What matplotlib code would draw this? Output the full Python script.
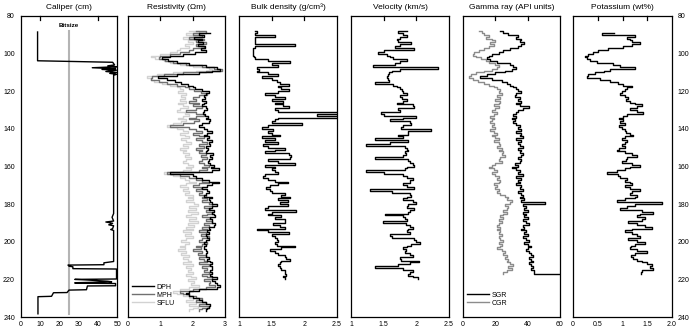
import numpy as np
import matplotlib
matplotlib.use("Agg")
import matplotlib.pyplot as plt
from matplotlib.lines import Line2D

plt.rcParams['font.family'] = ['Liberation Sans', 'DejaVu Sans']

# ---------------- data ----------------
# Caliper (depth, cm)
cal_depth = [88.5, 103.8, 104.6, 106.0, 106.5, 107.0, 107.5, 108.0, 108.4, 108.8, 109.5, 110.0, 110.5,
             111.0, 111.5, 185.0, 187.0, 189.0, 189.5, 190.2, 191.0, 191.5, 193.0, 193.5, 194.0,
             210.5, 211.2, 212.2, 212.4, 213.0, 213.3, 214.3, 214.5, 219.8, 220.0, 220.3, 221.0,
             221.3, 221.8, 222.0, 222.2, 223.4, 223.5, 225.5, 225.7, 227.0, 227.1, 229.0, 229.2, 238.3]
cal_vals = [8.8, 8.8, 47.5, 48.5, 45, 49.5, 37, 49, 42, 49.5, 44, 49.5, 46,
            49.5, 48, 48, 47.2, 48, 44, 47.5, 45.5, 48, 47.5, 46.5, 48,
            48, 43, 43, 24.5, 25, 27, 27, 49.5, 49.5, 28, 34, 45,
            47, 28, 28, 49, 49, 34.5, 34, 25, 24, 17, 16, 9, 9]
bitsize_depth = [88.0, 238.3]
bitsize_vals = [25.0, 25.0]

# Resistivity (ohm m), 1 m sampling
dph_top = 89.0
dph = [2.54, 2.2, 2.35, 2.05, 2.3, 2.15, 2.33, 2.15, 2.38, 2.25, 2.4,
       2.07, 1.7, 1.3, 1.05, 1.25, 1.5, 1.9, 2.4, 2.75, 2.85, 2.6, 2.2, 1.5,
       0.94, 1.2, 1.45, 1.65, 1.87, 2.0, 2.07, 2.3, 2.5, 2.4, 2.35, 2.38, 2.3,
       2.42, 2.35, 2.3, 2.4, 2.43, 2.36, 2.32, 2.38, 2.46, 2.4, 2.54, 2.5, 2.3,
       2.2, 2.35, 2.45, 2.6, 2.45, 2.35, 2.5, 2.45, 2.6, 2.5, 2.55, 2.4, 2.48,
       2.45, 2.4, 2.62, 2.55, 2.6, 2.5, 2.48, 2.55, 2.65, 2.58, 2.8, 2.6, 1.3,
       2.0, 2.1, 2.3, 2.5, 2.8, 2.6, 2.45, 2.3, 2.45, 2.5, 2.4, 2.35, 2.6,
       2.5, 2.55, 2.6, 2.75, 2.6, 2.5, 2.65, 2.6, 2.65, 2.7, 2.55, 2.6, 2.6,
       2.7, 2.65, 2.5, 2.55, 2.45, 2.5, 2.4, 2.45, 2.5, 2.4, 2.35, 2.4, 2.35,
       2.35, 2.4, 2.45, 2.4, 2.4, 2.5, 2.45, 2.55, 2.6, 2.55, 2.6, 2.6, 2.55,
       2.6, 2.55, 2.6, 2.75, 2.6, 2.7, 2.75, 2.85, 2.75, 2.2, 1.9, 1.8, 1.9,
       2.0, 2.2, 2.3, 2.4, 2.55, 2.5, 2.45, 2.4]
mph_top = 88.0
mph = [2.1, 2.4, 2.0, 2.3, 1.9, 2.35, 2.1, 2.4, 2.1, 2.35, 2.0, 1.9,
       1.6, 1.3, 1.0, 0.95, 1.15, 1.4, 1.8, 2.3, 2.65, 2.9, 2.4, 1.7, 1.1,
       0.75, 0.7, 0.95, 1.2, 1.5, 1.75, 1.9, 2.05, 2.25, 2.45, 2.2, 2.0, 2.1,
       1.9, 2.2, 2.0, 2.3, 2.1, 1.8, 2.1, 2.35, 2.1, 1.9, 2.2, 2.05, 1.7,
       1.3, 1.9, 2.1, 2.3, 2.0, 2.2, 2.35, 2.1, 2.3, 2.45, 2.2, 2.35, 2.1,
       2.3, 2.2, 2.4, 2.25, 2.45, 2.3, 2.2, 2.35, 2.5, 2.3, 2.45, 2.2, 1.2,
       1.6, 1.9, 2.1, 2.3, 2.5, 2.2, 2.0, 2.25, 2.1, 2.3, 2.2, 2.4, 2.3,
       2.45, 2.3, 2.5, 2.6, 2.35, 2.55, 2.4, 2.6, 2.45, 2.3, 2.55, 2.4, 2.6,
       2.35, 2.5, 2.3, 2.45, 2.2, 2.4, 2.25, 2.5, 2.3, 2.2, 2.45, 2.3, 2.1,
       2.25, 2.0, 2.3, 2.15, 2.4, 2.2, 2.35, 2.45, 2.2, 2.5, 2.3, 2.45, 2.35,
       2.5, 2.3, 2.45, 2.6, 2.35, 2.55, 2.5, 2.7, 2.4, 2.0, 1.6, 1.7, 1.9,
       2.1, 2.3, 2.1, 2.4, 2.2, 2.5, 2.3, 2.2]
sflu_top = 88.0
sflu = [1.9, 2.2, 1.8, 2.0, 1.7, 2.1, 1.85, 2.0, 1.75, 1.9, 1.6, 1.5,
        1.3, 1.0, 0.7, 0.85, 1.1, 1.3, 1.6, 2.0, 2.5, 2.6, 2.1, 1.4, 0.9,
        0.6, 0.7, 0.8, 1.05, 1.3, 1.5, 1.6, 1.7, 1.55, 1.8, 1.65, 1.75, 1.6,
        1.8, 1.55, 1.7, 1.85, 1.6, 1.5, 1.75, 1.9, 1.7, 1.55, 1.8, 1.65, 1.4,
        1.2, 1.5, 1.7, 1.85, 1.6, 1.75, 1.9, 1.65, 1.8, 1.95, 1.7, 1.85, 1.6,
        1.8, 1.7, 1.9, 1.75, 1.95, 1.8, 1.7, 1.85, 2.0, 1.8, 1.95, 1.7, 1.1,
        1.4, 1.6, 1.75, 1.9, 2.1, 1.8, 1.6, 1.85, 1.7, 1.9, 1.75, 2.0, 1.85,
        2.0, 1.8, 2.05, 2.15, 1.9, 2.1, 1.85, 2.15, 1.95, 1.8, 2.1, 1.9, 2.15,
        1.85, 2.05, 1.8, 2.0, 1.7, 1.95, 1.75, 2.0, 1.8, 1.65, 1.9, 1.75, 1.6,
        1.75, 1.55, 1.8, 1.65, 1.9, 1.7, 1.85, 1.95, 1.7, 2.0, 1.8, 1.95, 1.85,
        2.0, 1.8, 1.95, 2.1, 1.85, 2.05, 1.95, 2.2, 1.9, 1.6, 1.4, 1.5, 1.7,
        1.9, 2.0, 1.8, 2.1, 1.9, 2.15, 2.0, 1.9]

# Bulk density (g/cm3), 1 m sampling from 88 m
den_top = 88.0
density = [1.24, 1.28, 1.24, 1.55, 1.24, 1.24, 1.24, 1.24, 1.86, 1.24, 1.22, 1.22,
           1.22, 1.22, 1.23, 1.25, 1.45, 1.78, 1.5, 1.6, 1.27, 1.3, 1.27, 1.45, 1.6,
           1.35, 1.5, 1.58, 1.62, 1.76, 1.6, 1.65, 1.76, 1.6, 1.4, 1.55, 1.7, 1.5,
           1.68, 1.55, 1.68, 1.76, 1.55, 1.6, 2.6, 2.2, 2.6, 1.6, 1.55, 1.5, 1.96,
           1.45, 1.35, 1.52, 1.45, 1.5, 1.62, 1.35, 1.55, 1.4, 1.6, 1.37, 1.45, 1.7,
           1.55, 1.4, 1.76, 1.8, 1.78, 1.45, 1.6, 1.86, 1.4, 1.55, 1.5, 1.55, 1.6,
           1.4, 1.37, 1.45, 1.55, 1.75, 1.6, 1.48, 1.42, 1.47, 1.5, 1.7, 1.65, 1.78,
           1.6, 1.75, 1.62, 1.75, 1.45, 1.4, 1.88, 1.5, 1.45, 1.65, 1.55, 1.7, 1.7,
           1.52, 1.62, 1.7, 1.27, 1.45, 1.76, 1.5, 1.55, 1.58, 1.6, 1.55, 1.58, 1.86,
           1.65, 1.48, 1.55, 1.6, 1.7, 1.72, 1.78, 1.65, 1.62, 1.6, 1.62, 1.65, 1.7,
           1.7, 1.72, 1.68, 1.7]

# Velocity (km/s), 1 m sampling from 88 m
vel_top = 88.0
velocity = [1.85, 1.72, 1.8, 1.85, 1.75, 1.7, 1.72, 1.92, 1.75, 1.67, 1.97, 1.5,
            1.41, 1.55, 1.6, 1.64, 1.85, 1.75, 1.68, 1.34, 2.33, 1.75, 1.62, 1.58, 1.56,
            1.55, 1.56, 1.58, 1.36, 1.64, 1.7, 1.75, 1.78, 1.8, 1.85, 1.75, 1.78, 1.85,
            1.79, 1.7, 1.95, 1.97, 1.72, 1.75, 1.46, 1.5, 1.99, 1.8, 1.6, 1.9, 1.92,
            1.8, 1.77, 2.23, 1.88, 1.87, 1.72, 1.8, 1.36, 1.87, 1.6, 1.23, 1.82, 1.85,
            1.87, 1.83, 1.84, 1.8, 1.36, 1.87, 1.9, 1.95, 1.97, 1.85, 1.82, 1.23, 1.5,
            1.8, 1.86, 1.95, 1.9, 1.9, 1.8, 1.85, 1.97, 1.29, 1.62, 1.9, 1.92, 1.85,
            1.8, 1.95, 2.0, 1.88, 1.85, 1.97, 1.9, 1.87, 1.52, 1.8, 1.82, 1.85, 1.49,
            1.84, 1.9, 1.95, 1.88, 1.85, 1.9, 1.6, 1.63, 1.97, 2.0, 2.05, 1.92, 1.85,
            1.8, 1.84, 1.82, 1.9, 1.95, 1.75, 1.77, 2.04, 1.9, 1.72, 1.36, 1.8, 1.95,
            1.9, 1.88, 1.95, 2.03]

# Gamma ray (API), 1 m sampling from 88 m
gr_top = 88.0
sgr = [23, 25, 28, 34, 33, 36, 35, 38, 36, 34, 29, 25,
       22, 18, 16, 15, 17, 21, 29, 31, 33, 30, 26, 20, 15,
       10.5, 18, 24, 27, 29, 31, 33, 34, 36, 33, 32, 35, 34,
       36, 33, 35, 41, 37, 34, 33, 31, 33, 30, 32, 31, 33,
       35, 34, 36, 33, 36, 35, 37, 33, 36, 34, 35, 37, 34,
       36, 35, 37, 36, 34, 36, 35, 32, 34, 30, 33, 35, 34,
       37, 33, 36, 34, 35, 33, 36, 35, 37, 34, 36, 37, 35,
       38, 36, 51, 37, 39, 38, 40, 37, 39, 38, 40, 37, 39,
       41, 37, 38, 36, 39, 38, 40, 37, 39, 41, 38, 40, 42,
       40, 39, 41, 42, 43, 41, 42, 43, 41, 42, 43, 42, 44,
       44, 62]
cgr = [10, 12, 13, 16, 14, 18, 20, 17, 19, 16, 13, 10,
       7, 6, 8, 11, 14, 16, 20, 22, 21, 18, 13, 8, 5,
       4, 6, 9, 13, 16, 19, 21, 23, 22, 24, 21, 23, 20,
       23, 22, 19, 22, 20, 18, 21, 19, 17, 19, 18, 17, 19,
       18, 20, 17, 19, 21, 18, 20, 22, 19, 22, 23, 21, 24,
       22, 25, 24, 26, 23, 22, 24, 20, 18, 16, 19, 21, 18,
       20, 22, 21, 23, 22, 19, 21, 20, 22, 21, 23, 26, 28,
       27, 30, 29, 26, 28, 27, 25, 27, 25, 23, 25, 22, 24,
       22, 21, 23, 21, 23, 22, 24, 22, 23, 25, 22, 24, 23,
       21, 24, 26, 25, 27, 26, 28, 27, 29, 31, 28, 30, 27,
       25]

# Potassium (wt%), 1 m sampling from 89 m
k_top = 89.0
potassium = [0.82, 0.58, 1.25, 1.1, 1.15, 1.2, 1.35, 1.2, 1.02, 0.71, 0.5,
             0.41, 0.3, 0.24, 0.28, 0.35, 0.48, 0.8, 0.95, 1.25, 0.75, 0.62, 0.45, 0.31,
             0.28, 0.55, 0.75, 0.9, 1.0, 1.2, 1.1, 1.05, 0.98, 0.95, 1.05, 1.12, 1.08,
             1.15, 1.25, 1.39, 1.3, 1.15, 1.3, 1.42, 1.1, 1.02, 0.92, 1.0, 0.95, 1.05,
             0.92, 0.98, 1.05, 1.08, 1.15, 1.22, 1.05, 0.98, 1.1, 1.05, 0.98, 1.05, 0.92,
             0.88, 1.05, 1.2, 1.29, 1.1, 1.08, 0.98, 1.2, 1.35, 1.15, 1.05, 0.88, 0.68,
             0.9, 0.95, 1.1, 1.05, 1.15, 1.2, 1.05, 1.15, 1.35, 1.2, 1.15, 1.3, 1.25,
             1.05, 0.88, 1.79, 1.25, 1.1, 0.95, 1.4, 1.62, 1.35, 1.29, 1.45, 1.39, 1.12,
             1.3, 1.45, 1.59, 1.2, 1.05, 1.2, 1.29, 1.35, 1.12, 1.3, 1.45, 1.25, 1.18,
             1.15, 1.3, 1.49, 1.25, 1.18, 1.22, 1.29, 1.4, 1.49, 1.59, 1.55, 1.62, 1.39,
             1.38]

titles = ["Caliper (cm)", "Resistivity (\u03a9m)", "Bulk density (g/cm\u00b3)",
          "Velocity (km/s)", "Gamma ray (API units)", "Potassium (wt%)"]
xlims = [(0, 50), (0, 3), (1, 2.5), (1, 2.5), (0, 60), (0, 2.0)]
xticks = [[0, 10, 20, 30, 40, 50], [0, 1, 2, 3], [1, 1.5, 2, 2.5], [1, 1.5, 2, 2.5],
          [0, 20, 40, 60], [0, 0.5, 1, 1.5, 2.0]]
xticklabels = [["0", "10", "20", "30", "40", "50"], ["0", "1", "2", "3"],
               ["1", "1.5", "2", "2.5"], ["1", "1.5", "2", "2.5"],
               ["0", "20", "40", "60"], ["0", "0.5", "1", "1.5", "2.0"]]
top_ticks = [[10, 40], [1, 2], [1.5, 2], [1.5, 2], [20, 40], [0.5, 1, 1.5]]
depth_ticks = [80, 100, 120, 140, 160, 180, 200, 220, 240]

# ---------------- figure ----------------
W, H = 693, 330
fig = plt.figure(figsize=(W / 100, H / 100), dpi=100)
panels_px = [(20.5, 117.5), (128, 225), (239, 337), (351, 449), (463, 560), (573, 672)]
top_px, bot_px = 16, 317

axes = []
for i, (l, r) in enumerate(panels_px):
    ax = fig.add_axes([l / W, 1 - bot_px / H, (r - l) / W, (bot_px - top_px) / H])
    ax.set_xlim(*xlims[i])
    ax.set_ylim(240, 80)
    ax.set_xticks(xticks[i])
    ax.set_xticklabels(xticklabels[i], fontsize=5)
    ax.tick_params(axis='x', length=0, pad=3)
    ax.set_yticks(depth_ticks)
    ax.set_yticks([100, 120, 140, 160, 180, 200, 220], minor=True)
    ax.tick_params(axis='y', which='major', length=0, labelsize=5, pad=4,
                   labelleft=(i == 0), labelright=(i == 5), left=False, right=False)
    ax.tick_params(axis='y', which='minor', direction='in', length=3.5, width=0.9,
                   left=True, right=True)
    for s in ax.spines.values():
        s.set_linewidth(0.9)
    for t in top_ticks[i]:
        ax.plot([t, t], [80, 80 + 3.5 * 160 / 301], color='black', lw=0.9, clip_on=False)
    ax.set_title(titles[i], fontsize=6, pad=5)
    axes.append(ax)

def dep(top, vals):
    return top + np.arange(len(vals)) * 1.0

lw = 1.0
# Caliper
ax = axes[0]
ax.plot(bitsize_vals, bitsize_depth, color='#b4b4b4', lw=1.5)
ax.plot(cal_vals, cal_depth, color='black', lw=lw)
ax.text(25, 84.8, "Bitsize", fontsize=4.5, ha='center', va='center', fontweight='bold')

# Resistivity
ax = axes[1]
ax.plot(sflu, dep(sflu_top, sflu), color='#d2d2d2', lw=lw, drawstyle='steps-post')
ax.plot(mph, dep(mph_top, mph), color='#707070', lw=lw, drawstyle='steps-post')
ax.plot(dph, dep(dph_top, dph), color='black', lw=lw, drawstyle='steps-post')
h = [Line2D([], [], color='black', lw=lw), Line2D([], [], color='#707070', lw=lw),
     Line2D([], [], color='#d2d2d2', lw=lw)]
ax.legend(h, ["DPH", "MPH", "SFLU"], loc='lower left', bbox_to_anchor=(0.0, 0.02),
          frameon=False, fontsize=5, handlelength=3.2, handletextpad=0.3,
          labelspacing=0.15, borderaxespad=0.2)

# Density
ax = axes[2]
ax.plot(density, dep(den_top, density), color='black', lw=lw, drawstyle='steps-post')

# Velocity
ax = axes[3]
ax.plot(velocity, dep(vel_top, velocity), color='black', lw=lw, drawstyle='steps-post')

# Gamma
ax = axes[4]
ax.plot(cgr, dep(gr_top, cgr), color='#8c8c8c', lw=lw, drawstyle='steps-post')
ax.plot(sgr, dep(gr_top, sgr), color='black', lw=lw, drawstyle='steps-post')
h = [Line2D([], [], color='black', lw=lw), Line2D([], [], color='#8c8c8c', lw=lw)]
ax.legend(h, ["SGR", "CGR"], loc='lower left', bbox_to_anchor=(0.0, 0.02),
          frameon=False, fontsize=5, handlelength=3.2, handletextpad=0.3,
          labelspacing=0.15, borderaxespad=0.2)

# Potassium
ax = axes[5]
ax.plot(potassium, dep(k_top, potassium), color='black', lw=lw, drawstyle='steps-post')

fig.savefig("out.png", dpi=100)
